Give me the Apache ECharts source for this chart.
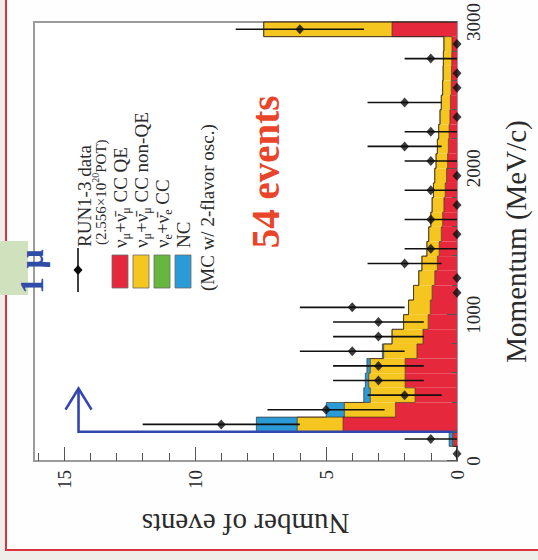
<!DOCTYPE html>
<html>
<head>
<meta charset="utf-8">
<script src="https://cdn.jsdelivr.net/npm/echarts@6/dist/echarts.min.js"></script>
<style>
  html, body { margin: 0; padding: 0; width: 538px; height: 560px; overflow: hidden; background: #efeeea; }
  /* the figure is laid out landscape and turned a quarter turn counter-clockwise */
  #chart { position: absolute; left: 0; top: 0; width: 560px; height: 538px;
           transform-origin: 0 0; transform: translate(0px, 560px) rotate(-90deg); }
</style>
</head>
<body>
<div id="chart"></div>
<script>
// ---- momentum bins (MeV/c), 100 MeV wide; the last bin also collects the overflow ----
const binLow = [0, 100, 200, 300, 400, 500, 600, 700, 800, 900,
                1000, 1100, 1200, 1300, 1400, 1500, 1600, 1700, 1800, 1900,
                2000, 2100, 2200, 2300, 2400, 2500, 2600, 2700, 2800, 2900];
const binWidth = 100;

// ---- observed events per bin (RUN1-3) ----
const dataCounts = [0, 1, 9, 5, 2, 3, 3, 4, 3, 3,
                    4, 0, 0, 2, 1, 0, 1, 0, 1, 0,
                    1, 2, 1, 0, 2, 0, 0, 1, 0, 6];

// ---- MC expectation per bin, by interaction type (2-flavor oscillation) ----
const mcCCQE = [0.00, 0.14, 4.35, 2.35, 1.60, 1.98, 1.98, 1.53, 1.30, 1.10,
                1.02, 0.95, 0.85, 0.75, 0.68, 0.60, 0.55, 0.50, 0.45, 0.40,
                0.36, 0.33, 0.30, 0.27, 0.25, 0.22, 0.21, 0.20, 0.19, 2.48];
const mcCCnonQE = [0.00, 0.03, 1.75, 1.95, 1.71, 1.39, 1.33, 1.27, 1.18, 0.94,
                   0.83, 0.71, 0.61, 0.59, 0.47, 0.48, 0.45, 0.45, 0.45, 0.45,
                   0.44, 0.42, 0.40, 0.38, 0.35, 0.33, 0.32, 0.32, 0.31, 4.90];
const mcNueCC = [0.00, 0.00, 0.00, 0.00, 0.00, 0.00, 0.00, 0.00, 0.00, 0.00,
                 0.00, 0.00, 0.00, 0.00, 0.00, 0.00, 0.00, 0.00, 0.00, 0.00,
                 0.00, 0.00, 0.00, 0.00, 0.00, 0.00, 0.00, 0.00, 0.00, 0.00];
const mcNC = [0.00, 0.13, 1.56, 0.69, 0.25, 0.13, 0.13, 0.05, 0.00, 0.00,
              0.00, 0.00, 0.00, 0.00, 0.00, 0.00, 0.00, 0.00, 0.00, 0.00,
              0.00, 0.00, 0.00, 0.00, 0.00, 0.00, 0.00, 0.00, 0.00, 0.00];

// ---- axes ----
const momentumTicks = [0, 1000, 2000, 3000];
const eventMajorTicks = [0, 5, 10, 15];
const eventMinorTicks = [0, 1, 2, 3, 4, 5, 6, 7, 8, 9, 10, 11, 12, 13, 14, 15, 16];
const momentumRange = [0, 3000];
const eventRange = [0, 16.15];

// ---- selection cut marker ----
const cutMomentum = 200;
const cutArrowLevel = 14.45;
const cutArrowEnd = 495;

const SERIF = '"Liberation Serif", "DejaVu Serif", serif';
const INK = '#2b2b2b';

const layers = [
  { name: 'CC QE', values: mcCCQE, color: '#e6283d' },
  { name: 'CC non-QE', values: mcCCnonQE, color: '#f5c61f' },
  { name: 'nue CC', values: mcNueCC, color: '#66b640' },
  { name: 'NC', values: mcNC, color: '#2b9bd7' }
];

function renderBin(params, api) {
  const lo = api.value(0), hi = api.value(1), b = api.value(2), t = api.value(3);
  if (!(t - b > 0)) return null;
  const p0 = api.coord([lo, t]);
  const p1 = api.coord([hi, b]);
  return {
    type: 'rect',
    shape: { x: p0[0], y: p0[1], width: p1[0] - p0[0], height: p1[1] - p0[1] },
    style: { fill: api.visual('color') }
  };
}

// stacked fills and the step outline on top of each layer
const series = [];
let base = binLow.map(() => 0);
const outlines = [];
layers.forEach((layer, k) => {
  const data = binLow.map((lo, i) => [lo, lo + binWidth, base[i], base[i] + layer.values[i]]);
  base = base.map((b, i) => b + layer.values[i]);
  outlines.push(base.slice());
  series.push({
    type: 'custom', name: layer.name, data, renderItem: renderBin,
    encode: { x: [0, 1], y: [2, 3] }, itemStyle: { color: layer.color }, z: 2 + k * 0.01,
    silent: true
  });
});

outlines.forEach((tops, k) => {
  if (k === 2) return; // the nue layer is empty here
  series.push({
    type: 'custom', data: [[0, 0]], z: 3, silent: true,
    renderItem: (params, api) => {
      const pts = [api.coord([binLow[0], 0])];
      binLow.forEach((lo, i) => {
        pts.push(api.coord([lo, tops[i]]));
        pts.push(api.coord([lo + binWidth, tops[i]]));
      });
      pts.push(api.coord([binLow[binLow.length - 1] + binWidth, 0]));
      return { type: 'polyline', shape: { points: pts },
               style: { stroke: 'rgba(60,40,30,0.75)', lineWidth: 0.9, fill: null } };
    }
  });
});

// data: error bars and markers
const dataPoints = binLow.map((lo, i) => [lo + binWidth / 2, dataCounts[i]]);
series.push({
  type: 'custom', data: dataPoints, z: 5, silent: true,
  renderItem: (params, api) => {
    const x = api.value(0), n = api.value(1);
    if (n <= 0) return null;
    const e = Math.sqrt(n);
    const a = api.coord([x, n - e]), b = api.coord([x, n + e]);
    return { type: 'line', shape: { x1: a[0], y1: a[1], x2: b[0], y2: b[1] },
             style: { stroke: '#111', lineWidth: 1.6 } };
  }
});
series.push({
  type: 'scatter', data: dataPoints, symbol: 'diamond', symbolSize: [10, 9],
  itemStyle: { color: '#0d0d0d' }, z: 6, silent: true
});

// 200 MeV/c cut with arrow
series.push({
  type: 'custom', data: [[cutMomentum, cutArrowLevel]], z: 7, silent: true,
  renderItem: (params, api) => {
    const c = api.value(0), h = api.value(1);
    const p0 = api.coord([c, 0]), p1 = api.coord([c, h]), p2 = api.coord([cutArrowEnd, h]);
    const stroke = { stroke: '#3346b0', lineWidth: 2.6, fill: null, lineJoin: 'miter' };
    return {
      type: 'group',
      children: [
        { type: 'polyline', shape: { points: [p0, p1, p2] }, style: stroke },
        { type: 'polyline', shape: { points: [[p2[0] - 21, p2[1] - 13], p2, [p2[0] - 21, p2[1] + 13]] }, style: stroke }
      ]
    };
  }
});

// legend, annotations and page decoration
const rowText = { fontSize: 19, fontFamily: SERIF, fill: INK, lineHeight: 24 };
const rich = {
  n: rowText,
  s: { fontSize: 12, fontFamily: SERIF, fill: INK, lineHeight: 13, verticalAlign: 'bottom' },
  p: { fontSize: 15, fontFamily: SERIF, fill: INK, lineHeight: 22 },
  sup: { fontSize: 10, fontFamily: SERIF, fill: INK, lineHeight: 11, verticalAlign: 'top' }
};
const BAR = '\u0304';
const legendRows = [
  { v: 120, color: layers[0].color, text: '{n|ν}{s|μ}{n|+ν' + BAR + '}{s|μ}{n| CC QE}' },
  { v: 141, color: layers[1].color, text: '{n|ν}{s|μ}{n|+ν' + BAR + '}{s|μ}{n| CC non-QE}' },
  { v: 162, color: layers[2].color, text: '{n|ν}{s|e}{n|+ν' + BAR + '}{s|e}{n| CC}' },
  { v: 183, color: layers[3].color, text: '{n|NC}' }
];
const graphics = [
  { type: 'rect', shape: { x: 10, y: 6, width: 560, height: 540 }, style: { fill: '#fefefe' }, z: -10 },
  { type: 'polyline', shape: { points: [[560, 6], [10, 6], [10, 538]] }, style: { stroke: '#d8363c', lineWidth: 2, fill: null }, z: -9 },
  { type: 'rect', shape: { x: 265, y: 0, width: 54, height: 28 }, style: { fill: '#cfe2bd' }, z: 10 },
  { type: 'text', x: 266, y: 14, style: { text: '1 μ', font: 'bold 34px ' + SERIF, fill: '#2f4ca6', textAlign: 'left', textVerticalAlign: 'alphabetic' }, z: 11 },
  { type: 'text', x: 388, y: 265, style: { text: '54 events', font: 'bold 39px ' + SERIF, fill: '#e8452a', textAlign: 'center', textVerticalAlign: 'middle' }, z: 11 },
  // data entry
  { type: 'line', shape: { x1: 268, y1: 78, x2: 312, y2: 78 }, style: { stroke: '#111', lineWidth: 1.6 }, z: 11 },
  { type: 'polygon', shape: { points: [[285, 78], [290, 73.5], [295, 78], [290, 82.5]] }, style: { fill: '#0d0d0d' }, z: 11 },
  { type: 'text', x: 313, y: 84, style: { text: 'RUN1-3 data', font: '19px ' + SERIF, fill: INK, textAlign: 'left', textVerticalAlign: 'middle' }, z: 11 },
  { type: 'text', x: 315, y: 101, style: { text: '{p|(2.556×10}{sup|20}{p|POT)}', rich, textAlign: 'left', textVerticalAlign: 'middle' }, z: 11 },
  { type: 'text', x: 269, y: 207, style: { text: '(MC w/ 2-flavor osc.)', font: '19px ' + SERIF, fill: INK, textAlign: 'left', textVerticalAlign: 'middle' }, z: 11 }
];
legendRows.forEach(r => {
  graphics.push({ type: 'rect', shape: { x: 272, y: r.v - 8, width: 33, height: 16 },
                  style: { fill: r.color, stroke: '#6a6a6a', lineWidth: 0.8 }, z: 11 });
  graphics.push({ type: 'text', x: 312, y: r.v, style: { text: r.text, rich, textAlign: 'left', textVerticalAlign: 'middle' }, z: 11 });
});

const chart = echarts.init(document.getElementById('chart'), null, { renderer: 'svg', width: 560, height: 538 });
chart.setOption({
  animation: false,
  backgroundColor: 'transparent',
  grid: { left: 99, right: 20, top: 34, bottom: 81, show: true, borderColor: '#9c9c9c', borderWidth: 2, backgroundColor: '#ffffff' },
  xAxis: {
    type: 'value', min: momentumRange[0], max: momentumRange[1], interval: 1000,
    name: 'Momentum (MeV/c)', nameLocation: 'middle', nameGap: 44,
    nameTextStyle: { fontFamily: SERIF, fontSize: 29, color: INK },
    axisLine: { show: false },
    axisTick: { inside: true, length: 10, lineStyle: { color: '#555', width: 1 } },
    minorTick: { show: true, splitNumber: 5, length: 5, lineStyle: { color: '#555', width: 1 } },
    splitLine: { show: false },
    axisLabel: { customValues: momentumTicks, formatter: v => String(v), margin: 7, fontFamily: SERIF, fontSize: 19, color: INK },
    z: 8
  },
  yAxis: [{
    type: 'value', min: eventRange[0], max: eventRange[1],
    name: 'Number of events', nameLocation: 'middle', nameGap: 48,
    nameTextStyle: { fontFamily: SERIF, fontSize: 29, color: INK },
    axisLine: { show: false },
    axisTick: { inside: true, length: 14, customValues: eventMajorTicks, lineStyle: { color: '#555', width: 1 } },
    splitLine: { show: false },
    axisLabel: { customValues: eventMajorTicks, formatter: v => String(v), margin: 9, fontFamily: SERIF, fontSize: 19, color: INK },
    z: 8
  }, {
    type: 'value', min: eventRange[0], max: eventRange[1], position: 'left',
    axisLine: { show: false }, splitLine: { show: false }, axisLabel: { show: false },
    axisTick: { inside: true, length: 8, customValues: eventMinorTicks, lineStyle: { color: '#555', width: 1 } },
    z: 8
  }],
  graphic: graphics,
  series
});
</script>
</body>
</html>
